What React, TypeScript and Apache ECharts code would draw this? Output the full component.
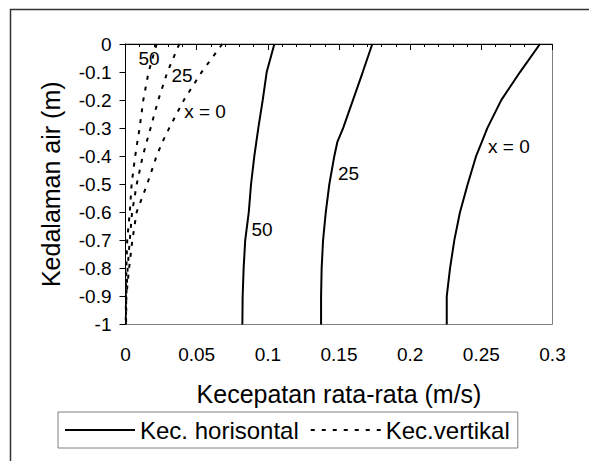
import React, { useEffect, useRef } from "react";
import * as echarts from "echarts";

// Depths (m), shared by all curves
const depths = [0, -0.1, -0.2, -0.3, -0.35, -0.4, -0.5, -0.6, -0.7, -0.8, -0.9, -1];

// Kec. horisontal (solid) at x = 0, 25, 50
const horX0 = [0.2912, 0.2772, 0.2640, 0.2542, 0.2503, 0.2463, 0.2404, 0.2350, 0.2310, 0.2280, 0.2257, 0.2257];
const horX25 = [0.1734, 0.1667, 0.1598, 0.1529, 0.1488, 0.1467, 0.1432, 0.1407, 0.1388, 0.1378, 0.1374, 0.1374];
const horX50 = [0.1046, 0.0992, 0.0964, 0.0933, 0.0919, 0.0905, 0.0882, 0.0866, 0.0841, 0.0830, 0.0823, 0.0821];

// Kec. vertikal (dashed) at x = 0, 25, 50
const verX0 = [0.068, 0.0535, 0.041, 0.0307, 0.0259, 0.0218, 0.0152, 0.0078, 0.0048, 0.0025, 0.0006, 0.0004];
const verX25 = [0.0378, 0.0294, 0.023, 0.0176, 0.0148, 0.0121, 0.0079, 0.0046, 0.003, 0.0015, 0.0005, 0.0003];
const verX50 = [0.0219, 0.0162, 0.0125, 0.0099, 0.0083, 0.0068, 0.0043, 0.003, 0.0012, 0.0006, 0.0003, 0.0002];

// Curve labels [velocity, depth, text]
const curveLabels: [number, number, string][] = [
  [0.0165, -0.053, "50"],
  [0.0397, -0.114, "25"],
  [0.0559, -0.239, "x = 0"],
  [0.2694, -0.367, "x = 0"],
  [0.1567, -0.46, "25"],
  [0.0959, -0.663, "50"],
];

const legendNames = ["Kec. horisontal", "Kec.vertikal"];
const xTitle = "Kecepatan rata-rata (m/s)";
const yTitle = "Kedalaman air (m)";

const FONT = "'Liberation Sans', Arial, sans-serif";

export default function App() {
  const ref = useRef<HTMLDivElement>(null);

  useEffect(() => {
    if (!ref.current) return;
    const chart = echarts.init(ref.current, undefined, { renderer: "svg" });

    const mk = (vals: number[]) => vals.map((v, i) => [v, depths[i]]);
    const solid = (vals: number[]) => ({
      type: "line",
      name: legendNames[0],
      data: mk(vals),
      symbol: "none",
      silent: true,
      lineStyle: { color: "#000", width: 2, type: "solid" },
      itemStyle: { color: "#000" },
    });
    const dashed = (vals: number[]) => ({
      type: "line",
      name: legendNames[1],
      data: mk(vals),
      symbol: "none",
      silent: true,
      lineStyle: { color: "#000", width: 2, type: [4, 7] },
      itemStyle: { color: "#000" },
    });

    chart.setOption({
      animation: false,
      backgroundColor: "#fff",
      textStyle: { fontFamily: FONT },
      grid: { left: 125.5, right: 36.5, top: 44, bottom: 136.5, show: true, borderColor: "#808080", borderWidth: 1 },
      graphic: [
        {
          type: "rect",
          left: 8,
          top: 7,
          shape: { width: 620, height: 520 },
          style: { fill: "none", stroke: "#333", lineWidth: 1.5 },
          silent: true,
        },
      ],
      legend: {
        data: legendNames,
        left: 58,
        top: 412,
        padding: [6, 8, 6, 6],
        itemWidth: 70,
        itemHeight: 14,
        itemGap: 11,
        borderColor: "#808080",
        borderWidth: 1,
        textStyle: { fontSize: 24, color: "#000", fontFamily: FONT },
        itemStyle: { opacity: 0 },
        selectedMode: false,
      },
      xAxis: {
        type: "value",
        min: 0,
        max: 0.3,
        interval: 0.05,
        name: xTitle,
        nameLocation: "middle",
        nameGap: 57,
        nameTextStyle: { fontSize: 25, color: "#000", fontFamily: FONT },
        axisLine: { show: true, lineStyle: { color: "#000", width: 1 } },
        axisTick: { show: true, length: 6, lineStyle: { color: "#000" } },
        minorTick: { show: true, splitNumber: 5, length: 3, lineStyle: { color: "#000" } },
        axisLabel: { fontSize: 19, color: "#000", margin: 20, fontFamily: FONT },
        splitLine: { show: false },
      },
      yAxis: {
        type: "value",
        min: -1,
        max: 0,
        interval: 0.1,
        name: yTitle,
        nameLocation: "middle",
        nameGap: 62,
        nameRotate: 90,
        nameTextStyle: { fontSize: 25, color: "#000", fontFamily: FONT },
        axisLine: { show: true, onZero: false, lineStyle: { color: "#000", width: 1 } },
        axisTick: { show: true, length: 6, lineStyle: { color: "#000" } },
        axisLabel: { fontSize: 19, color: "#000", margin: 14, fontFamily: FONT },
        splitLine: { show: false },
      },
      series: [
        solid(horX0),
        solid(horX25),
        solid(horX50),
        dashed(verX0),
        dashed(verX25),
        dashed(verX50),
        {
          type: "scatter",
          name: "labels",
          data: curveLabels,
          symbolSize: 1,
          silent: true,
          itemStyle: { color: "#fff", opacity: 0 },
          label: {
            show: true,
            position: "inside",
            formatter: (p: any) => p.value[2],
            fontSize: 19,
            color: "#000",
            opacity: 1,
            textBorderWidth: 0,
            fontFamily: FONT,
          },
        },
      ],
    });

    return () => chart.dispose();
  }, []);

  return (
    <div
      ref={ref}
      style={{ position: "fixed", left: 0, top: 0, width: 589, height: 461 }}
    />
  );
}
